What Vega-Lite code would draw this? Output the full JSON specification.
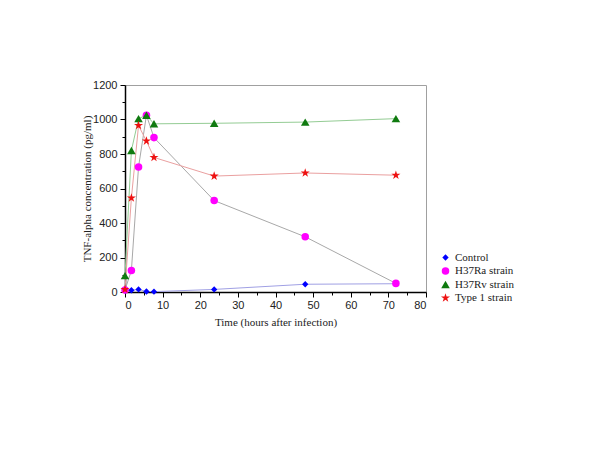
{
  "$schema": "https://vega.github.io/schema/vega-lite/v6.json",
  "autosize": "none",
  "width": 301,
  "height": 207,
  "padding": {"left": 125, "top": 85, "right": 174, "bottom": 158},
  "background": "white",
  "config": {"view": {"stroke": "#a0a0a0", "strokeWidth": 1}},
  "data": {"values": [
    {"series": "Control", "t": 0, "v": 8},
    {"series": "Control", "t": 1.7, "v": 10},
    {"series": "Control", "t": 3.6, "v": 15},
    {"series": "Control", "t": 5.7, "v": 3},
    {"series": "Control", "t": 7.7, "v": 2},
    {"series": "Control", "t": 23.7, "v": 15},
    {"series": "Control", "t": 47.9, "v": 45},
    {"series": "Control", "t": 72, "v": 48},
    {"series": "H37Ra strain", "t": 0, "v": 12},
    {"series": "H37Ra strain", "t": 1.7, "v": 125},
    {"series": "H37Ra strain", "t": 3.6, "v": 725},
    {"series": "H37Ra strain", "t": 5.7, "v": 1025},
    {"series": "H37Ra strain", "t": 7.7, "v": 895},
    {"series": "H37Ra strain", "t": 23.7, "v": 530},
    {"series": "H37Ra strain", "t": 47.9, "v": 320},
    {"series": "H37Ra strain", "t": 72, "v": 50},
    {"series": "H37Rv strain", "t": 0, "v": 95},
    {"series": "H37Rv strain", "t": 1.7, "v": 820},
    {"series": "H37Rv strain", "t": 3.6, "v": 1005},
    {"series": "H37Rv strain", "t": 5.7, "v": 1025},
    {"series": "H37Rv strain", "t": 7.7, "v": 975},
    {"series": "H37Rv strain", "t": 23.7, "v": 978},
    {"series": "H37Rv strain", "t": 47.9, "v": 985},
    {"series": "H37Rv strain", "t": 72, "v": 1005},
    {"series": "Type 1 strain", "t": 0, "v": 15},
    {"series": "Type 1 strain", "t": 1.7, "v": 545},
    {"series": "Type 1 strain", "t": 3.6, "v": 965},
    {"series": "Type 1 strain", "t": 5.7, "v": 875},
    {"series": "Type 1 strain", "t": 7.7, "v": 780},
    {"series": "Type 1 strain", "t": 23.7, "v": 672},
    {"series": "Type 1 strain", "t": 47.9, "v": 690},
    {"series": "Type 1 strain", "t": 72, "v": 677}
  ]},
  "resolve": {"axis": {"x": "independent", "y": "independent"}},
  "layer": [
    {
      "transform": [{"filter": "datum.series === 'Control'"}],
      "mark": {"type": "line", "strokeWidth": 1, "color": "#a0a0e4"},
      "encoding": {
        "x": {"field": "t", "type": "quantitative", "scale": {"domain": [0, 80], "nice": false},
          "axis": {"orient": "bottom", "values": [5, 15, 25, 35, 45, 55, 65, 75], "labels": false, "tickSize": 3, "tickColor": "black", "domain": false, "grid": false, "title": null}},
        "y": {"field": "v", "type": "quantitative", "scale": {"domain": [0, 1200], "nice": false},
          "axis": {"orient": "left", "values": [100, 300, 500, 700, 900, 1100], "labels": false, "tickSize": 3, "tickColor": "black", "domain": false, "grid": false, "title": null}}
      }
    },
    {
      "transform": [{"filter": "datum.series === 'H37Ra strain'"}],
      "mark": {"type": "line", "strokeWidth": 1, "color": "#a8a8a8"},
      "encoding": {
        "x": {"field": "t", "type": "quantitative", "axis": null},
        "y": {"field": "v", "type": "quantitative", "axis": null}
      }
    },
    {
      "transform": [{"filter": "datum.series === 'H37Rv strain'"}],
      "mark": {"type": "line", "strokeWidth": 1, "color": "#94cc94"},
      "encoding": {
        "x": {"field": "t", "type": "quantitative", "axis": null},
        "y": {"field": "v", "type": "quantitative", "axis": null}
      }
    },
    {
      "transform": [{"filter": "datum.series === 'Type 1 strain'"}],
      "mark": {"type": "line", "strokeWidth": 1, "color": "#eaa0a0"},
      "encoding": {
        "x": {"field": "t", "type": "quantitative", "axis": null},
        "y": {"field": "v", "type": "quantitative", "axis": null}
      }
    },
    {
      "mark": {"type": "point", "filled": true, "opacity": 1, "strokeWidth": 0.5},
      "encoding": {
        "x": {"field": "t", "type": "quantitative",
          "axis": {"orient": "bottom", "values": [0, 10, 20, 30, 40, 50, 60, 70, 80], "format": "d", "tickSize": 5, "tickColor": "black", "domainColor": "black", "domainWidth": 1.5, "grid": false,
            "labelFont": "Liberation Sans", "labelFontSize": 11, "labelColor": "#222", "labelPadding": 2,
            "title": "Time (hours after infection)", "titleFont": "Liberation Serif", "titleFontSize": 11, "titleFontWeight": "normal", "titleColor": "#222", "titlePadding": 6}},
        "y": {"field": "v", "type": "quantitative",
          "axis": {"orient": "left", "values": [0, 200, 400, 600, 800, 1000, 1200], "format": "d", "tickSize": 5, "tickColor": "black", "domainColor": "black", "domainWidth": 1.5, "grid": false,
            "labelFont": "Liberation Sans", "labelFontSize": 11, "labelColor": "#222", "labelPadding": 3,
            "title": "TNF-alpha concentration (pg/ml)", "titleFont": "Liberation Serif", "titleFontSize": 11, "titleFontWeight": "normal", "titleColor": "#222", "titlePadding": 0}},
        "color": {"field": "series", "type": "nominal",
          "scale": {"domain": ["Control", "H37Ra strain", "H37Rv strain", "Type 1 strain"], "range": ["#0000ff", "#ff00ff", "#0f7a0f", "#ee1111"]},
          "legend": {"title": null, "orient": "none", "legendX": 315, "legendY": 167, "labelFont": "Liberation Serif", "labelFontSize": 11, "labelColor": "#222", "rowPadding": 1.5, "symbolSize": 60, "symbolStrokeWidth": 0}},
        "shape": {"field": "series", "type": "nominal",
          "scale": {"domain": ["Control", "H37Ra strain", "H37Rv strain", "Type 1 strain"], "range": ["diamond", "circle", "triangle-up", "M0,-1L0.225,-0.309L0.951,-0.309L0.363,0.118L0.588,0.809L0,0.382L-0.588,0.809L-0.363,0.118L-0.951,-0.309L-0.225,-0.309Z"]}},
        "size": {"field": "series", "type": "nominal", "legend": null,
          "scale": {"domain": ["Control", "H37Ra strain", "H37Rv strain", "Type 1 strain"], "range": [40, 90, 55, 80]}}
      }
    }
  ]
}
